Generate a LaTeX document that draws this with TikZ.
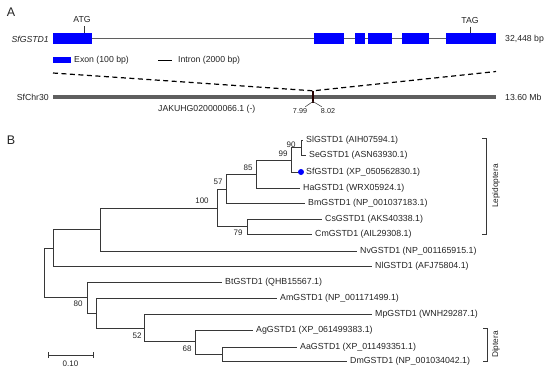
\documentclass[tikz,border=0pt]{standalone}
\usepackage{fontspec}
\setmainfont{Liberation Sans}
\definecolor{exonblue}{RGB}{0,0,255}
\definecolor{linegray}{RGB}{55,55,55}
\definecolor{chrgray}{RGB}{95,95,95}
\definecolor{txt}{RGB}{35,35,35}
\tikzset{
  leaf/.style={anchor=west,inner sep=0pt,xshift=3bp,text=txt,font=\fontsize{8.8bp}{10bp}\selectfont},
  boot/.style={inner sep=0pt,text=txt,font=\fontsize{8bp}{9bp}\selectfont},
  lbl/.style={inner sep=0pt,text=txt,font=\fontsize{8.7bp}{10bp}\selectfont},
  small/.style={inner sep=0pt,text=txt,font=\fontsize{7.2bp}{8bp}\selectfont},
  clade/.style={inner sep=0pt,text=txt,font=\fontsize{8.3bp}{9bp}\selectfont},
  panel/.style={inner sep=0pt,text=txt,font=\fontsize{12.5bp}{14bp}\selectfont},
  br/.style={draw=linegray,line width=1bp},
  exon/.style={fill=exonblue,draw=none},
}
\begin{document}
\begin{tikzpicture}[x=1bp,y=-1bp]
\useasboundingbox (0,0) rectangle (550,373);
% ---------------- Panel A ----------------
\node[panel] (pA) at (11,12.5) {A};
\node[lbl,anchor=east] (gname) at (49,39) {\itshape SfGSTD1};
\coordinate (gs) at (53,38.5);
\coordinate (ge) at (496,38.5);
\draw[chrgray,line width=1.2bp] (gs) -- (ge);
\node[exon,minimum width=39bp,minimum height=11bp,anchor=north west] (ex1) at (53,33) {};
\node[exon,minimum width=30bp,minimum height=11bp,anchor=north west] (ex2) at (314,33) {};
\node[exon,minimum width=10bp,minimum height=11bp,anchor=north west] (ex3) at (355,33) {};
\node[exon,minimum width=24bp,minimum height=11bp,anchor=north west] (ex4) at (368,33) {};
\node[exon,minimum width=27bp,minimum height=11bp,anchor=north west] (ex5) at (402,33) {};
\node[exon,minimum width=50bp,minimum height=11bp,anchor=north west] (ex6) at (446,33) {};
\node[lbl] (atg) at (82,20) {ATG};
\node[lbl] (tag) at (470,20.5) {TAG};
\coordinate (atgt) at (84,26);
\coordinate (tagt) at (470,26.5);
\draw[linegray,line width=0.8bp] (atgt) -- (atgt |- ex1.north);
\draw[linegray,line width=0.8bp] (tagt) -- (tagt |- ex6.north);
\node[lbl,anchor=west] (glen) at (505,39) {32,448 bp};
% legend
\node[exon,minimum width=18bp,minimum height=6bp,anchor=north west] (legex) at (53,56.5) {};
\node[lbl,anchor=west] (legext) at (74,60) {Exon (100 bp)};
\coordinate (li1) at (158,60);
\coordinate (li2) at (172,60);
\draw[black,line width=0.9bp] (li1) -- (li2);
\node[lbl,anchor=west] (legint) at (178,60) {Intron (2000 bp)};
% chromosome
\coordinate (cs) at (53,97);
\coordinate (ce) at (496,97);
\draw[chrgray,line width=4bp] (cs) -- (ce);
\node[lbl,anchor=east] (chr) at (49,97) {SfChr30};
\node[lbl,anchor=west] (chrlen) at (505,97.5) {13.60 Mb};
\node[fill=black!85!red,minimum width=2.6bp,minimum height=12bp,inner sep=0pt] (mark) at (313,97) {};
\coordinate (dl) at (53,73);
\coordinate (dr) at (496,71.5);
\draw[black,line width=1.2bp,dash pattern=on 5bp off 3.5bp] (dl) -- (mark.north) -- (dr);
\node[small] (p1) at (300,111) {7.99};
\node[small] (p2) at (328,111) {8.02};
\coordinate (vtop) at (313,101.5);
\draw[linegray,line width=0.5bp] (p1.north east) ++(-2,-1.5) coordinate (v1) (vtop) -- (v1);
\draw[linegray,line width=0.5bp] (p2.north west) ++(1,-1.5) coordinate (v2) (vtop) -- (v2);
\node[lbl,anchor=west] (contig) at (158,109) {JAKUHG020000066.1 (-)};
% ---------------- Panel B ----------------
\node[panel] (pB) at (11,140) {B};
% internal nodes
\coordinate (root) at (44,272.5);
\coordinate (nA) at (53,248);
\coordinate (nC) at (100,229);
\coordinate (n100) at (217,208);
\coordinate (n57) at (226,189);
\coordinate (n85) at (256,174);
\coordinate (n99) at (291,160);
\coordinate (n90) at (301,147.5);
\coordinate (n79) at (247,226.5);
\coordinate (n80) at (87,297.5);
\coordinate (nD) at (96,313);
\coordinate (n52) at (144,328);
\coordinate (n68) at (195,341.5);
\coordinate (nE) at (222,354);
% leaves
\coordinate (Sl) at (303,140);
\coordinate (Se) at (306,155);
\coordinate (Sf) at (301,172);
\coordinate (Ha) at (300,188);
\coordinate (Bm) at (305,203);
\coordinate (Cs) at (322,219);
\coordinate (Cm) at (312,234);
\coordinate (Nv) at (357,251);
\coordinate (Nl) at (372,266);
\coordinate (Bt) at (222,282);
\coordinate (Am) at (277,298);
\coordinate (Mp) at (372,314);
\coordinate (Ag) at (253,330);
\coordinate (Aa) at (297,347);
\coordinate (Dm) at (347,361);
\begin{scope}[br]
\draw (root) |- (nA); \draw (root) |- (n80);
\draw (nA) |- (nC); \draw (nA) |- (Nl);
\draw (nC) |- (n100); \draw (nC) |- (Nv);
\draw (n100) |- (n57); \draw (n100) |- (n79);
\draw (n57) |- (n85); \draw (n57) |- (Bm);
\draw (n85) |- (n99); \draw (n85) |- (Ha);
\draw (n99) |- (n90); \draw (n99) |- (Sf);
\draw (n90) |- (Sl); \draw (n90) |- (Se);
\draw (n79) |- (Cs); \draw (n79) |- (Cm);
\draw (n80) |- (Bt); \draw (n80) |- (nD);
\draw (nD) |- (Am); \draw (nD) |- (n52);
\draw (n52) |- (Mp); \draw (n52) |- (n68);
\draw (n68) |- (Ag); \draw (n68) |- (nE);
\draw (nE) |- (Aa); \draw (nE) |- (Dm);
\end{scope}
\fill[exonblue] (Sf) circle (3bp);
\node[leaf] (tSl) at (Sl) {SlGSTD1 (AIH07594.1)};
\node[leaf] (tSe) at (Se) {SeGSTD1 (ASN63930.1)};
\node[leaf,xshift=2bp] (tSf) at (Sf) {SfGSTD1 (XP\_050562830.1)};
\node[leaf] (tHa) at (Ha) {HaGSTD1 (WRX05924.1)};
\node[leaf] (tBm) at (Bm) {BmGSTD1 (NP\_001037183.1)};
\node[leaf] (tCs) at (Cs) {CsGSTD1 (AKS40338.1)};
\node[leaf] (tCm) at (Cm) {CmGSTD1 (AIL29308.1)};
\node[leaf] (tNv) at (Nv) {NvGSTD1 (NP\_001165915.1)};
\node[leaf] (tNl) at (Nl) {NlGSTD1 (AFJ75804.1)};
\node[leaf] (tBt) at (Bt) {BtGSTD1 (QHB15567.1)};
\node[leaf] (tAm) at (Am) {AmGSTD1 (NP\_001171499.1)};
\node[leaf] (tMp) at (Mp) {MpGSTD1 (WNH29287.1)};
\node[leaf] (tAg) at (Ag) {AgGSTD1 (XP\_061499383.1)};
\node[leaf] (tAa) at (Aa) {AaGSTD1 (XP\_011493351.1)};
\node[leaf] (tDm) at (Dm) {DmGSTD1 (NP\_001034042.1)};
% bootstrap values
\node[boot] (b100) at (202,201) {100};
\node[boot] (b57) at (218,182) {57};
\node[boot] (b85) at (248,168) {85};
\node[boot] (b99) at (283,154) {99};
\node[boot] (b90) at (291,145) {90};
\node[boot] (b79) at (238,233) {79};
\node[boot] (b80) at (78,304) {80};
\node[boot] (b52) at (137,336) {52};
\node[boot] (b68) at (187,349) {68};
% clade brackets
\coordinate (L1) at (482,138); \coordinate (L2) at (486,138);
\coordinate (L3) at (486,234); \coordinate (L4) at (482,234);
\draw[br] (L1) -- (L2) -- (L3) -- (L4);
\node[clade,rotate=90] (lep) at (496,186) {Lepidoptera};
\coordinate (D1) at (483,328); \coordinate (D2) at (487,328);
\coordinate (D3) at (487,361); \coordinate (D4) at (483,361);
\draw[br] (D1) -- (D2) -- (D3) -- (D4);
\node[clade,rotate=90] (dip) at (496,344.5) {Diptera};
% scale bar
\coordinate (s1) at (48,355); \coordinate (s2) at (93,355);
\draw[br] (s1) -- (s2);
\draw[br] ([yshift=-3]s1) -- ([yshift=3]s1);
\draw[br] ([yshift=-3]s2) -- ([yshift=3]s2);
\node[boot] (sc) at (70.5,364) {0.10};
\end{tikzpicture}
\end{document}
